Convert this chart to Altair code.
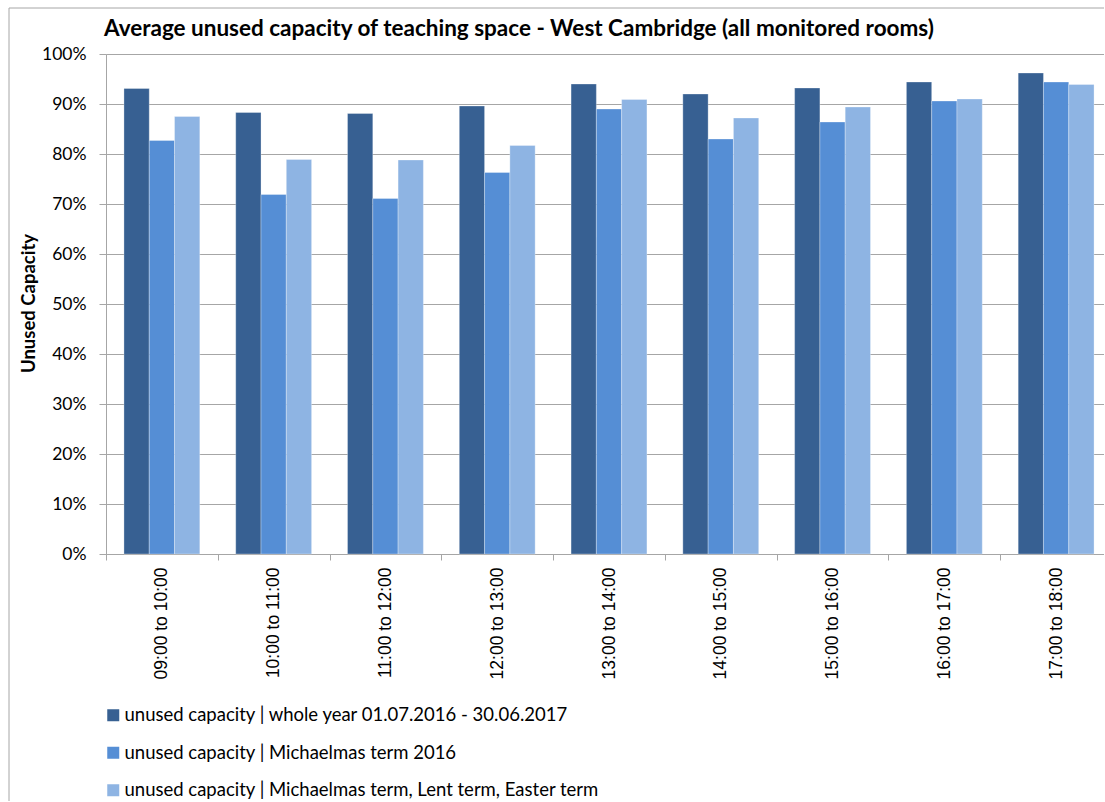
import altair as alt
import pandas as pd

# Hour slots on the x axis
slots = [
    "09:00 to 10:00", "10:00 to 11:00", "11:00 to 12:00",
    "12:00 to 13:00", "13:00 to 14:00", "14:00 to 15:00",
    "15:00 to 16:00", "16:00 to 17:00", "17:00 to 18:00",
]

# Series names (legend order)
series_names = [
    "unused capacity | whole year 01.07.2016 - 30.06.2017",
    "unused capacity | Michaelmas term 2016",
    "unused capacity | Michaelmas term, Lent term, Easter term",
]

# Average unused capacity, in percent
whole_year = [93.1, 88.3, 88.1, 89.6, 94.0, 92.0, 93.2, 94.4, 96.2]
michaelmas_2016 = [82.7, 71.9, 71.1, 76.3, 89.0, 83.0, 86.4, 90.6, 94.4]
all_terms = [87.5, 78.9, 78.8, 81.7, 90.9, 87.2, 89.4, 91.0, 93.9]

series_colors = ["#376092", "#558ED5", "#8EB4E3"]
y_ticks = [0, 10, 20, 30, 40, 50, 60, 70, 80, 90, 100]

chart_title = "Average unused capacity of teaching space - West Cambridge (all monitored rooms)"

rows = []
for name, vals in zip(series_names, [whole_year, michaelmas_2016, all_terms]):
    for slot, v in zip(slots, vals):
        rows.append({"slot": slot, "series": name, "value": v})
df = pd.DataFrame(rows)

GRID = "#a6a6a6"
LABEL_FONT = "Lato"

bars = alt.Chart(df).mark_bar(stroke="white", strokeWidth=0.6, strokeOpacity=0.5).encode(
    x=alt.X(
        "slot:N",
        sort=slots,
        scale=alt.Scale(range=[0, 1006], paddingInner=0, paddingOuter=0),
        axis=alt.Axis(
            title=None,
            labelAngle=270,
            labelAlign="right",
            labelBaseline="middle",
            labelFont="Liberation Sans",
            labelFontSize=17.5,
            labelColor="#000000",
            labelPadding=7,
            tickBand="extent",
            tickSize=6,
            tickColor=GRID,
            domainColor=GRID,
            grid=False,
        ),
    ),
    xOffset=alt.XOffset(
        "series:N",
        sort=series_names,
        scale=alt.Scale(paddingInner=0, paddingOuter=0.71),
    ),
    y=alt.Y(
        "value:Q",
        scale=alt.Scale(domain=[0, 100], nice=False),
        axis=alt.Axis(
            title="Unused Capacity",
            titleFont=LABEL_FONT,
            titleFontSize=18.5,
            titleFontWeight="bold",
            titleColor="#000000",
            titleAngle=270,
            titleAlign="center",
            titleBaseline="middle",
            titleX=-78,
            titleY=249,
            values=y_ticks,
            labelExpr="datum.value + '%'",
            labelFont=LABEL_FONT,
            labelFontSize=17.5,
            labelColor="#000000",
            labelPadding=13,
            tickSize=7,
            tickColor=GRID,
            domainColor=GRID,
            gridColor=GRID,
            gridWidth=1,
        ),
    ),
    color=alt.Color(
        "series:N",
        sort=series_names,
        scale=alt.Scale(domain=series_names, range=series_colors),
        legend=alt.Legend(
            title=None,
            orient="none",
            legendX=-2,
            legendY=652,
            direction="vertical",
            symbolType="square",
            symbolSize=144,
            symbolStrokeWidth=0,
            labelFont=LABEL_FONT,
            labelFontSize=18.5,
            labelColor="#000000",
            labelOffset=2,
            labelLimit=800,
            rowPadding=18.5,
        ),
    ),
)

# Light grey frame around the whole chart
frame = alt.Chart(pd.DataFrame({"k": [0]})).mark_rect(
    fill=None, stroke="#a6a6a6", strokeWidth=1
).encode(
    x=alt.value(-97), x2=alt.value(1100), y=alt.value(-46), y2=alt.value(900)
)

# Chart heading, placed above the plot area
heading = alt.Chart(pd.DataFrame({"t": [chart_title]})).mark_text(
    align="left",
    baseline="alphabetic",
    font=LABEL_FONT,
    fontSize=22.5,
    fontWeight="bold",
    color="#000000",
).encode(x=alt.value(-2), y=alt.value(-18), text="t:N")

chart = (
    alt.layer(frame, bars, heading)
    .properties(
        width=998,
        height=500,
        autosize=alt.AutoSizeParams(type="none"),
        padding={"left": 106, "top": 54, "right": 0, "bottom": 247},
    )
    .configure_view(stroke=None)
    .configure(background="white")
)

chart.save("out.html", embed_options={"renderer": "svg", "actions": False})
